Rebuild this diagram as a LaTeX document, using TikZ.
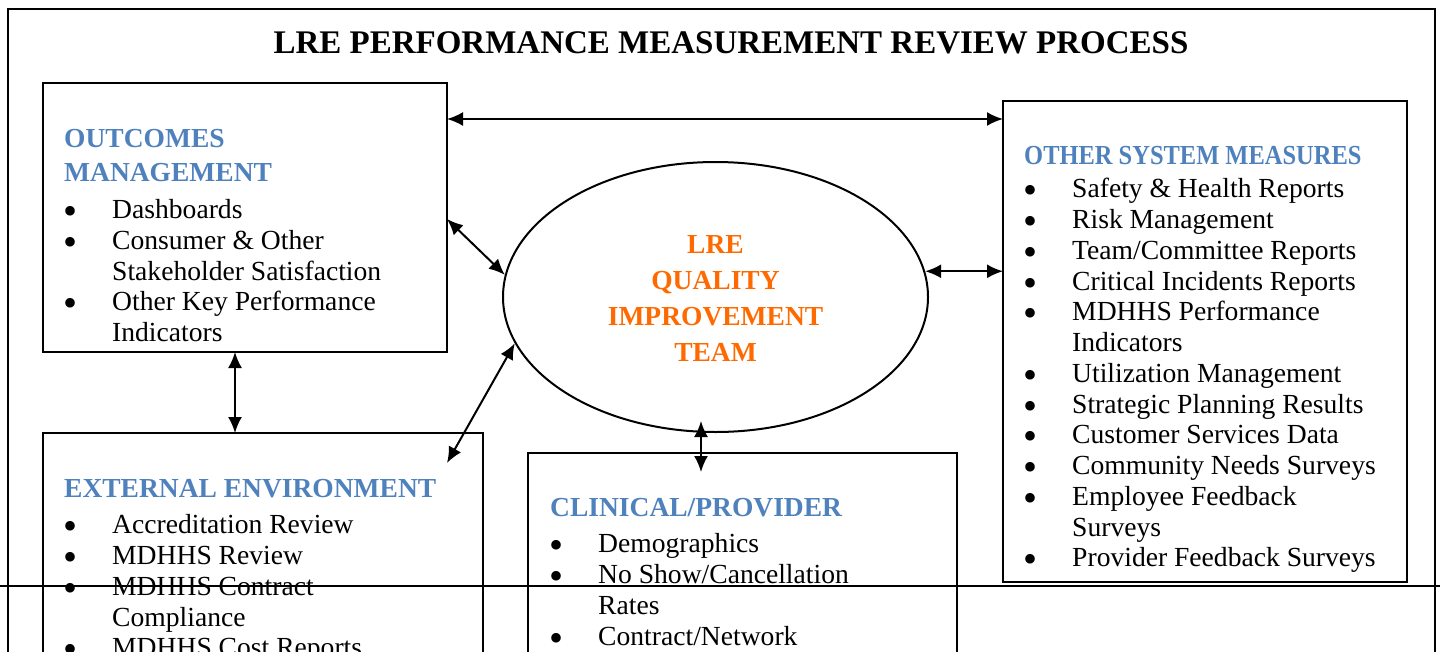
\documentclass[tikz,border=0pt]{standalone}
\usepackage{fontspec}
\setmainfont{Liberation Serif}
\usetikzlibrary{arrows.meta,shapes.geometric}
\definecolor{headblue}{HTML}{4F81BD}
\definecolor{qiorange}{HTML}{FF6A00}
\newcommand{\bodysize}{\fontsize{27.6}{30.75}\selectfont}
\newcommand{\headsize}{\fontsize{27.5}{30.75}\selectfont}
\newcommand{\boxhead}[1]{\multicolumn{2}{@{}l@{}}{\headsize\bfseries\color{headblue}#1}}
\newcommand{\bul}{\hspace*{-0.5pt}\raisebox{-6pt}{\scalebox{1.45}{\textbullet}}}
\begin{document}
\begin{tikzpicture}[x=1pt,y=-1pt,
  frame/.style={draw=black, line width=2pt},
  panel/.style={draw=black, line width=2pt, anchor=north west, inner sep=0pt, outer sep=0pt},
  link/.style={{Latex[length=16pt,width=14pt]}-{Latex[length=16pt,width=14pt]}, line width=2pt},
  listtext/.style={anchor=base west, inner sep=0pt, font=\bodysize},
]
\useasboundingbox (0,0) rectangle (1440,651);
\clip (0,0) rectangle (1440,651);

% page frame
\draw[frame] (8,9) rectangle (1435,720);

% panels
\node[panel, minimum width=404pt, minimum height=269pt] (om) at (43,83) {};
\node[panel, minimum width=404pt, minimum height=481pt] (os) at (1003,101) {};
\node[panel, minimum width=440pt, minimum height=300pt] (ee) at (43,433) {};
\node[panel, minimum width=429pt, minimum height=300pt] (cp) at (528,453) {};

% central team
\node[draw, ellipse, line width=2pt, minimum width=425pt, minimum height=270pt,
      inner sep=0pt] (qi) at (715.5,297) {};
\node[inner sep=0pt, align=center, text=qiorange,
      font=\fontsize{27.5}{36}\selectfont\bfseries] (qitext) at (715.5,298.5)
      {LRE\\QUALITY\\IMPROVEMENT\\TEAM};

% connectors
\draw[link] ([yshift=-36pt]om.north east) -- ([yshift=-18pt]os.north west);
\draw[link] ([yshift=-136pt]om.north east) -- (qi.174);
\draw[link] (qi.7) -- (qi.7 -| os.west);
\draw[link] ([xshift=-10pt]om.south) -- ([xshift=-28pt]ee.north);
\draw[link] ([xshift=-36pt,yshift=-30pt]ee.north east) -- (qi.193);
\draw[link] ([xshift=-14.5pt,yshift=12pt]qi.south) -- ([xshift=-41.5pt,yshift=-19pt]cp.north);

% title
\node[anchor=base, inner sep=0pt, font=\fontsize{33}{40}\selectfont\bfseries] (title) at (731,53)
  {LRE PERFORMANCE MEASUREMENT REVIEW PROCESS};

% panel texts
\node[listtext] (omtext) at (64,147) {\begin{tabular}[t]{@{}p{48pt}@{}l@{}}
\boxhead{OUTCOMES}\\[4pt]
\boxhead{MANAGEMENT}\\[6pt]
\bul & Dashboards\\
\bul & Consumer \& Other\\
 & Stakeholder Satisfaction\\
\bul & Other Key Performance\\
 & Indicators
\end{tabular}};

\node[listtext] (ostext) at (1024,164) {\begin{tabular}[t]{@{}p{48pt}@{}l@{}}
\boxhead{\scalebox{0.89}[1]{OTHER SYSTEM MEASURES}}\\[3pt]
\bul & Safety \& Health Reports\\
\bul & Risk Management\\
\bul & Team/Committee Reports\\
\bul & Critical Incidents Reports\\
\bul & MDHHS Performance\\
 & Indicators\\
\bul & Utilization Management\\
\bul & Strategic Planning Results\\
\bul & Customer Services Data\\
\bul & Community Needs Surveys\\
\bul & Employee Feedback\\
 & Surveys\\
\bul & Provider Feedback Surveys
\end{tabular}};

\node[listtext] (eetext) at (64,497) {\begin{tabular}[t]{@{}p{48pt}@{}l@{}}
\boxhead{EXTERNAL ENVIRONMENT}\\[6pt]
\bul & Accreditation Review\\
\bul & MDHHS Review\\
\bul & MDHHS Contract\\
 & Compliance\\
\bul & MDHHS Cost Reports
\end{tabular}};

\node[listtext] (cptext) at (550,516) {\begin{tabular}[t]{@{}p{48pt}@{}l@{}}
\boxhead{CLINICAL/PROVIDER}\\[6pt]
\bul & Demographics\\
\bul & No Show/Cancellation\\
 & Rates\\
\bul & Contract/Network
\end{tabular}};

% page break rule
\draw[line width=2pt] (0,586) -- (1440,586);
\end{tikzpicture}
\end{document}
